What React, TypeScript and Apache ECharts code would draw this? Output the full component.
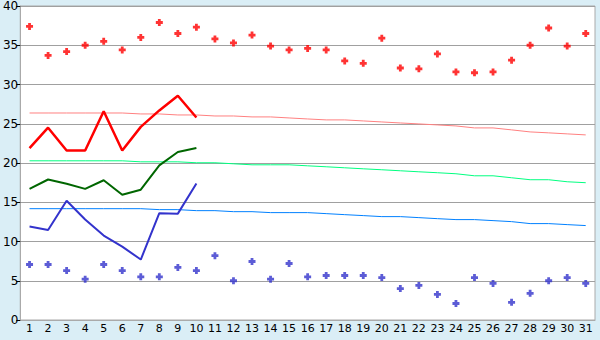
import React, { useEffect, useRef } from "react";
import * as echarts from "echarts";

const days = Array.from({ length: 31 }, (_, i) => String(i + 1));

const maxRecord = [37.4, 33.7, 34.2, 35.0, 35.5, 34.4, 36.0, 37.9, 36.5, 37.3, 35.8, 35.3, 36.3, 34.9, 34.4, 34.6, 34.4, 33.0, 32.7, 35.9, 32.1, 32.0, 33.9, 31.6, 31.5, 31.6, 33.1, 35.0, 37.2, 34.9, 36.5];
const minRecord = [7.07, 7.07, 6.3, 5.2, 7.07, 6.3, 5.5, 5.5, 6.7, 6.3, 8.2, 5.0, 7.45, 5.2, 7.2, 5.5, 5.67, 5.67, 5.67, 5.4, 4.0, 4.4, 3.26, 2.1, 5.4, 4.66, 2.25, 3.4, 5.0, 5.4, 4.66];

const maxObserved = [21.9, 24.5, 21.6, 21.6, 26.6, 21.6, 24.6, 26.7, 28.57, 25.8];
const meanObserved = [16.7, 17.9, 17.35, 16.7, 17.8, 15.96, 16.6, 19.7, 21.4, 21.9];
const minObserved = [11.9, 11.47, 15.2, 12.8, 10.75, 9.35, 7.7, 13.6, 13.55, 17.4];

const maxNormal = [26.37, 26.37, 26.37, 26.37, 26.37, 26.37, 26.25, 26.25, 26.12, 26.12, 25.99, 25.99, 25.87, 25.87, 25.74, 25.61, 25.49, 25.49, 25.36, 25.23, 25.1, 24.98, 24.85, 24.72, 24.47, 24.47, 24.22, 23.96, 23.84, 23.71, 23.58];
const meanNormal = [20.28, 20.28, 20.28, 20.28, 20.28, 20.28, 20.15, 20.15, 20.15, 20.03, 20.03, 19.9, 19.77, 19.77, 19.77, 19.64, 19.52, 19.39, 19.26, 19.14, 19.01, 18.88, 18.76, 18.63, 18.37, 18.37, 18.12, 17.87, 17.87, 17.61, 17.49];
const minNormal = [14.18, 14.18, 14.18, 14.18, 14.18, 14.18, 14.18, 14.06, 14.06, 13.93, 13.93, 13.8, 13.8, 13.68, 13.68, 13.68, 13.55, 13.42, 13.3, 13.17, 13.17, 13.04, 12.91, 12.79, 12.79, 12.66, 12.53, 12.28, 12.28, 12.15, 12.03];

const plus = "path://M1.8,0H4.2V1.8H6V4.2H4.2V6H1.8V4.2H0V1.8H1.8Z";

export default function App() {
  const ref = useRef<HTMLDivElement>(null);
  useEffect(() => {
    if (!ref.current) return;
    const chart = echarts.init(ref.current, null, { renderer: "svg" });
    const lineBase = (name: string, data: number[], color: string, width: number, z: number) => ({
      name,
      type: "line",
      data,
      symbol: "none",
      lineStyle: { color, width },
      itemStyle: { color },
      z,
    });
    chart.setOption({
      animation: false,
      backgroundColor: "#daeef6",
      textStyle: { fontFamily: "DejaVu Sans" },
      grid: {
        left: 20,
        right: 5,
        top: 5,
        bottom: 20,
        show: true,
        backgroundColor: "#ffffff",
        borderColor: "#aaaaaa",
        borderWidth: 1,
      },
      xAxis: {
        type: "category",
        data: days,
        boundaryGap: true,
        axisLine: { lineStyle: { color: "#aaaaaa" } },
        axisTick: { alignWithLabel: true, length: 5, lineStyle: { color: "#000" } },
        axisLabel: { color: "#000", fontSize: 11, margin: 3, interval: 0 },
        splitLine: { show: false },
      },
      yAxis: {
        type: "value",
        min: 0,
        max: 40,
        interval: 5,
        axisLine: { show: true, lineStyle: { color: "#aaaaaa" } },
        axisTick: { show: true, length: 4, lineStyle: { color: "#000" } },
        axisLabel: { color: "#000", fontSize: 12, margin: 2 },
        splitLine: { lineStyle: { color: "#a0a0a0", width: 1 } },
      },
      series: [
        lineBase("maxNormal", maxNormal, "#ff8080", 1, 2),
        lineBase("meanNormal", meanNormal, "#00ff80", 1, 2),
        lineBase("minNormal", minNormal, "#0080ff", 1, 2),
        lineBase("maxObserved", maxObserved, "#ff0000", 2.5, 3),
        lineBase("meanObserved", meanObserved, "#006600", 2, 3),
        lineBase("minObserved", minObserved, "#3333cc", 2, 3),
        {
          name: "maxRecord",
          type: "scatter",
          data: maxRecord,
          symbol: plus,
          symbolSize: 7,
          itemStyle: { color: "#ff0000" },
          z: 4,
        },
        {
          name: "minRecord",
          type: "scatter",
          data: minRecord,
          symbol: plus,
          symbolSize: 7,
          itemStyle: { color: "#3333cc" },
          z: 4,
        },
      ],
    });
    return () => chart.dispose();
  }, []);
  return (
    <div
      ref={ref}
      style={{ position: "fixed", left: 0, top: 0, width: 600, height: 340 }}
    />
  );
}
